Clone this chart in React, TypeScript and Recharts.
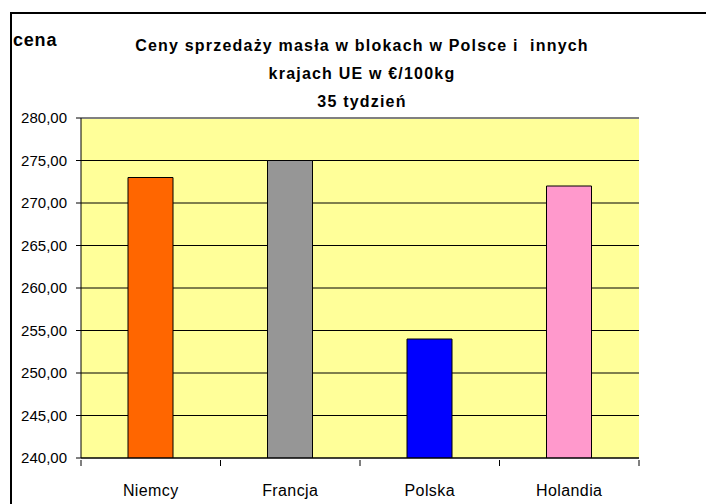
import { BarChart, Bar, XAxis, YAxis, CartesianGrid, Cell, ReferenceLine } from "recharts";

const countries = ["Niemcy", "Francja", "Polska", "Holandia"];
const prices = [273, 275, 254, 272];
const barColors = ["#FF6600", "#969696", "#0000FF", "#FF99CC"];
const yTicks = [240, 245, 250, 255, 260, 265, 270, 275, 280];

const data = countries.map((country, i) => ({ country, price: prices[i] }));

const font = "'Liberation Sans', Arial, sans-serif";
const plotLeft = 81;
const plotRight = 639;
const band = (plotRight - plotLeft) / countries.length;

const CategoryTick = (props: any) => {
  const { x, y, payload, index } = props;
  return (
    <g>
      {index === 0 && (
        <line x1={x - band / 2} y1={y} x2={x - band / 2} y2={y + 6} stroke="#000" />
      )}
      <line x1={x + band / 2} y1={y} x2={x + band / 2} y2={y + 6} stroke="#000" />
      <text
        x={x}
        y={y + 36}
        textAnchor="middle"
        fontSize={16}
        letterSpacing={0.4}
        fontFamily={font}
        fill="#000"
      >
        {payload.value}
      </text>
    </g>
  );
};

export default function App() {
  return (
    <div
      style={{
        position: "absolute",
        left: 0,
        top: 0,
        width: 706,
        height: 504,
        overflow: "hidden",
        background: "#fff",
        fontFamily: font,
      }}
    >
      <div
        style={{
          position: "absolute",
          left: 10,
          top: 12,
          width: 800,
          height: 600,
          borderTop: "2px solid #000",
          borderLeft: "2px solid #000",
        }}
      />
      <div
        style={{
          position: "absolute",
          left: 13,
          top: 30,
          fontSize: 18,
          fontWeight: "bold",
          letterSpacing: 0.8,
        }}
      >
        cena
      </div>
      <div
        style={{
          position: "absolute",
          left: 112,
          width: 500,
          top: 32,
          textAlign: "center",
          fontSize: 16,
          fontWeight: "bold",
          letterSpacing: 1.2,
          lineHeight: "28px",
          whiteSpace: "pre",
        }}
      >
        {"Ceny sprzedaży masła w blokach w Polsce i  innych\nkrajach UE w €/100kg\n35 tydzień"}
      </div>
      <div style={{ position: "absolute", left: 0, top: 0 }}>
        <BarChart
          width={706}
          height={504}
          data={data}
          margin={{ top: 118, right: 706 - plotRight, bottom: 16, left: 0 }}
        >
          <CartesianGrid
            yAxisId="left"
            vertical={false}
            stroke="#000"
            fill="#FFFF99"
            fillOpacity={1}
          />
          <XAxis
            dataKey="country"
            axisLine={{ stroke: "#000" }}
            tickLine={false}
            tickSize={0}
            tick={<CategoryTick />}
            height={30}
            interval={0}
          />
          <YAxis
            yAxisId="left"
            domain={[240, 280]}
            ticks={yTicks}
            width={plotLeft}
            axisLine={{ stroke: "#000" }}
            tickLine={{ stroke: "#000" }}
            tickSize={5}
            tickMargin={9}
            tick={{ fontSize: 15, fill: "#000", fontFamily: font }}
            tickFormatter={(v: number) => v.toFixed(2).replace(".", ",")}
            allowDataOverflow
          />
          <YAxis
            yAxisId="right"
            orientation="right"
            domain={[240, 280]}
            width={0}
            tick={false}
            tickLine={false}
            axisLine={{ stroke: "#808080", strokeWidth: 2 }}
          />
          <ReferenceLine yAxisId="left" y={280} stroke="#808080" strokeWidth={2} />
          <Bar
            yAxisId="left"
            dataKey="price"
            barSize={45}
            stroke="#000"
            strokeWidth={1}
            isAnimationActive={false}
          >
            {data.map((entry, index) => (
              <Cell key={`cell-${index}`} fill={barColors[index]} />
            ))}
          </Bar>
        </BarChart>
      </div>
    </div>
  );
}
